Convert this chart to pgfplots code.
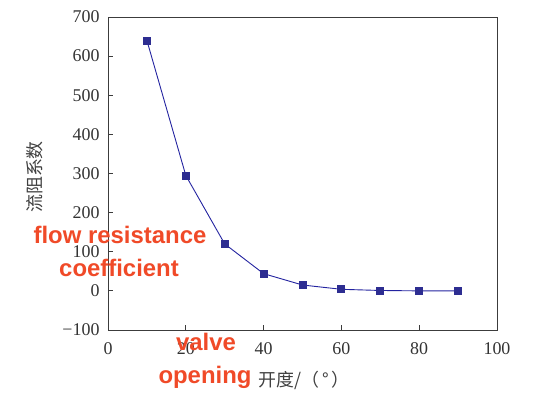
\documentclass[border=0pt]{standalone}
\usepackage{fontspec}
\setmainfont{Liberation Serif}
\newfontfamily\cjk{Noto Sans CJK SC}
\newfontfamily\labelfont{Liberation Sans}
\usepackage{pgfplots}
\pgfplotsset{compat=1.18}
\definecolor{linecol}{RGB}{35,35,160}
\definecolor{markcol}{RGB}{45,45,145}
\definecolor{notered}{RGB}{240,74,40}
\definecolor{axcol}{RGB}{60,60,60}
\begin{document}
\begin{tikzpicture}
\useasboundingbox (0,0) rectangle (550bp,406bp);
\begin{axis}[
    at={(108bp,76bp)}, anchor=south west,
    scale only axis,
    width=389bp, height=313bp,
    xmin=0, xmax=100,
    ymin=-100, ymax=700,
    xtick={0,20,40,60,80,100},
    ytick={-100,0,100,200,300,400,500,600,700},
    yticklabels={−100,0,100,200,300,400,500,600,700},
    tick align=inside,
    major tick length=5bp,
    xtick pos=bottom, ytick pos=left,
    axis line style={axcol, line width=0.9pt},
    tick style={axcol, line width=0.9pt},
    /pgf/number format/assume math mode=true,
    ticklabel style={font=\fontsize{18}{20}\selectfont, text=black!80},
    xticklabel style={yshift=-9bp},
    yticklabel style={xshift=-5bp},
]
\addplot[color=linecol, line width=0.9pt, mark=square*,
    mark size=3.5bp, mark options={fill=markcol, draw=markcol}]
    coordinates {
    (10,640)(20,295)(30,120)(40,44)(50,15)(60,4)(70,1)(80,0)(90,0)
    };
\end{axis}
\node[rotate=90, text=black!75, font=\cjk\fontsize{18}{20}\selectfont] at (35bp,229bp) {流阻系数};
\node[text=black!75, font=\cjk\fontsize{18}{20}\selectfont] at (304bp,26bp) {开度/（\,°\,）};
\node[text=notered, font=\labelfont\bfseries\fontsize{24}{26}\selectfont] at (120bp,171bp) {flow resistance};
\node[text=notered, font=\labelfont\bfseries\fontsize{24}{26}\selectfont] at (119bp,138bp) {coefficient};
\node[text=notered, font=\labelfont\bfseries\fontsize{24}{26}\selectfont] at (206bp,64bp) {valve};
\node[text=notered, font=\labelfont\bfseries\fontsize{24}{26}\selectfont] at (205bp,29bp) {opening};
\end{tikzpicture}
\end{document}
